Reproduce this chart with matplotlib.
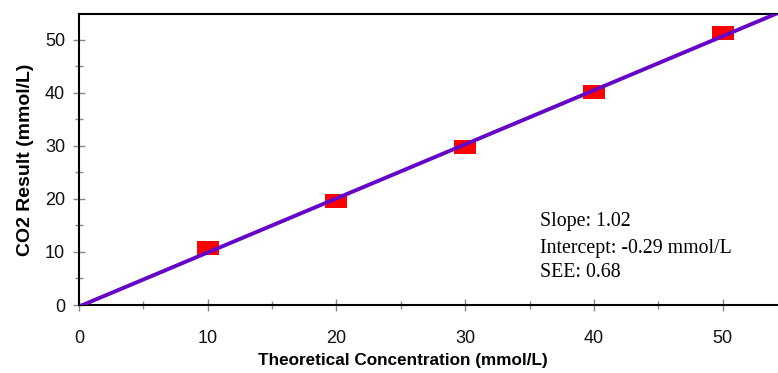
import numpy as np
import matplotlib.pyplot as plt
from matplotlib.ticker import MultipleLocator

# data
theoretical = [10, 20, 30, 40, 50]
measured = [10.7, 19.6, 29.8, 40.2, 51.3]
slope = 1.02
intercept = -0.29
see = 0.68

plt.rcParams['font.family'] = ['Liberation Sans', 'DejaVu Sans']

fig = plt.figure(figsize=(7.78, 3.73), dpi=100)
ax = fig.add_axes([79 / 778, 68 / 373, 1 - 79 / 778, 291 / 373])

rect = [(-1, -0.6), (1, -0.6), (1, 0.6), (-1, 0.6), (-1, -0.6)]
ax.scatter(theoretical, measured, marker=rect, s=260, color='#ff0000', zorder=2, linewidths=0)

xfit = np.array([0, 60])
ax.plot(xfit, slope * xfit + intercept, color='#6405c8', lw=2.8, zorder=3, solid_capstyle='butt')

ax.set_xlim(0, 54.3)
ax.set_ylim(0, 54.9)
ax.xaxis.set_major_locator(MultipleLocator(10))
ax.xaxis.set_minor_locator(MultipleLocator(5))
ax.yaxis.set_major_locator(MultipleLocator(10))
ax.yaxis.set_minor_locator(MultipleLocator(5))

ax.spines['right'].set_visible(False)
for s in ['left', 'bottom', 'top']:
    ax.spines[s].set_linewidth(1.5)
    ax.spines[s].set_color('black')

ax.tick_params(which='major', direction='inout', length=8, width=1, color='#888888',
               labelsize=13, labelcolor='#111111')
ax.tick_params(which='minor', direction='inout', length=6, width=1, color='#888888')
ax.tick_params(axis='x', which='major', pad=14)
ax.tick_params(axis='y', which='major', pad=6)
ax.tick_params(top=False, right=False, which='both')

ax.set_xlabel('Theoretical Concentration (mmol/L)', fontsize=12.3, fontweight='bold')
ax.xaxis.set_label_coords(0.4635, -0.165)
ax.set_ylabel('CO2 Result (mmol/L)', fontsize=14, fontweight='bold', labelpad=8)

lines = [f'Slope: {slope:.2f}', f'Intercept: {intercept:.2f} mmol/L', f'SEE: {see:.2f}']
line_y = [14.9, 9.8, 5.3]
for txt, ty in zip(lines, line_y):
    ax.text(35.8, ty, txt, family='Liberation Serif', fontsize=14.3, va='baseline', ha='left')

fig.savefig('out.png', dpi=100)
